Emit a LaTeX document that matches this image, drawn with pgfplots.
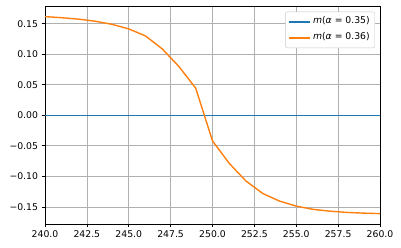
\documentclass[border=0pt]{standalone}
\usepackage{pgfplots}
\pgfplotsset{compat=1.18}
\usepackage{fontspec}
\setmainfont{DejaVu Sans}
\definecolor{cblue}{HTML}{1F77B4}
\definecolor{corange}{HTML}{FF7F0E}
\definecolor{gridc}{HTML}{B0B0B0}
\begin{document}
\fontsize{9.28pt}{11pt}\selectfont
\begin{tikzpicture}
\begin{axis}[
  scale only axis,
  width=335pt, height=218pt,
  xmin=240, xmax=260,
  ymin=-0.178, ymax=0.179,
  xtick={240,242.5,245,247.5,250,252.5,255,257.5,260},
  xticklabels={240.0,242.5,245.0,247.5,250.0,252.5,255.0,257.5,260.0},
  ytick={-0.15,-0.10,-0.05,0,0.05,0.10,0.15},
  yticklabels={−0.15,−0.10,−0.05,0.00,0.05,0.10,0.15},
  xtick pos=bottom, ytick pos=left,
  tick align=outside,
  major tick length=3.25pt,
  tick style={black, line width=0.74pt},
  axis line style={black, line width=0.74pt},
  grid=major,
  major grid style={gridc, line width=0.74pt},
  ticklabel style={font=\fontsize{9.28pt}{11pt}\selectfont},
  xticklabel style={yshift=-0.5pt},
  yticklabel style={xshift=-0.5pt},
  legend cell align=left,
  legend style={at={(0.985,0.974)}, anchor=north east,
    draw=gridc!70, rounded corners=2pt, fill=white,
    font=\fontsize{9.28pt}{11pt}\selectfont,
    inner xsep=3pt, inner ysep=2pt},
  legend image code/.code={\draw[mark repeat=2,mark phase=2] plot coordinates {(0pt,0pt) (10.5pt,0pt) (21pt,0pt)};},
]
\addplot[color=cblue, line width=1.6pt] coordinates {(240,0) (245,0) (250,0) (255,0) (260,0)};
\addlegendentry[text height=8pt, text depth=4pt]{\textit{m}(\textit{α} = 0.35)}
\addplot[color=corange, line width=1.39pt] coordinates {
(240,0.1616) (241,0.1598) (242,0.1575) (243,0.1540) (244,0.1490) (245,0.1415)
(246,0.1300) (247,0.1087) (248,0.0797) (249,0.0443) (250,-0.0420) (251,-0.0787)
(252,-0.1077) (253,-0.1280) (254,-0.1405) (255,-0.1487) (256,-0.1540) (257,-0.1570)
(258,-0.1590) (259,-0.1602) (260,-0.1610)};
\addlegendentry[text height=8pt, text depth=4pt]{\textit{m}(\textit{α} = 0.36)}
\end{axis}
\pgfresetboundingbox
\path ([xshift=-45pt,yshift=-24pt]current axis.south west) rectangle ([xshift=21pt,yshift=6pt]current axis.north east);
\end{tikzpicture}
\end{document}
